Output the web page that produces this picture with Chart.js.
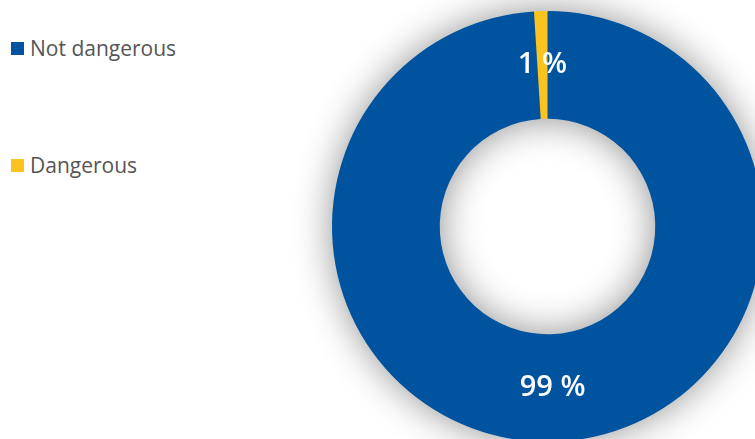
<!DOCTYPE html>
<html>
<head>
<meta charset="utf-8">
<script src="https://cdn.jsdelivr.net/npm/chart.js@4/dist/chart.umd.min.js"></script>
<style>
  html, body { margin: 0; padding: 0; width: 755px; height: 439px; overflow: hidden; background: #fff; }
  #legend { position: absolute; left: 11px; top: 0; font-family: 'Open Sans', sans-serif; font-size: 21px; color: #555; }
  #legend div { position: absolute; white-space: nowrap; display: flex; align-items: center; }
  #legend span.box { display: inline-block; width: 13px; height: 13px; margin-right: 6px; }
  #wrap { position: absolute; left: 292px; top: -29px; width: 511px; height: 511px; }
</style>
</head>
<body>
<div id="legend"></div>
<div id="wrap"><canvas id="chart"></canvas></div>
<script>
const LABELS = ['Not dangerous', 'Dangerous']
const VALUES = [99, 1]
const COLORS = ['#00549f', '#fcc31f']
const LEGEND_TOPS = [34, 151]

// Legend on the left, one entry per category
const legend = document.getElementById('legend')
LABELS.forEach((label, i) => {
  const row = document.createElement('div')
  row.style.top = LEGEND_TOPS[i] + 'px'
  const box = document.createElement('span')
  box.className = 'box'
  box.style.background = COLORS[i]
  row.appendChild(box)
  row.appendChild(document.createTextNode(label))
  legend.appendChild(row)
})

// Soft shadow cast by the ring, outside and into the hole
const shadowPlugin = {
  id: 'ringShadow',
  beforeDatasetsDraw (chart) {
    const arc = chart.getDatasetMeta(0).data[0]
    if (!arc) return
    const { x, y, outerRadius, innerRadius } = arc.getProps(['x', 'y', 'outerRadius', 'innerRadius'], true)
    const ctx = chart.ctx
    ctx.save()
    ctx.shadowColor = 'rgba(0, 0, 0, 0.45)'
    ctx.shadowBlur = 38
    ctx.fillStyle = COLORS[0]
    ctx.beginPath()
    ctx.arc(x, y, outerRadius - 1, 0, Math.PI * 2)
    ctx.arc(x, y, innerRadius + 1, 0, Math.PI * 2, true)
    ctx.fill('evenodd')
    ctx.restore()
  }
}

// Percent labels at the middle of each arc
const percentLabels = {
  id: 'percentLabels',
  afterDatasetsDraw (chart) {
    const ctx = chart.ctx
    const values = chart.data.datasets[0].data
    ctx.save()
    ctx.fillStyle = '#fff'
    ctx.font = '600 29px "Open Sans", sans-serif'
    ctx.textAlign = 'center'
    ctx.textBaseline = 'middle'
    chart.getDatasetMeta(0).data.forEach((arc, i) => {
      const p = arc.tooltipPosition()
      ctx.fillText(values[i] + ' %', p.x, p.y)
    })
    ctx.restore()
  }
}

new Chart(document.getElementById('chart'), {
  type: 'doughnut',
  data: {
    labels: LABELS,
    datasets: [
      {
        data: VALUES,
        backgroundColor: COLORS,
        borderWidth: 0,
        hoverOffset: 0
      }
    ]
  },
  options: {
    responsive: true,
    maintainAspectRatio: false,
    animation: false,
    events: [],
    cutout: '50%',
    layout: { padding: 40 },
    plugins: {
      legend: { display: false },
      tooltip: { enabled: false }
    }
  },
  plugins: [shadowPlugin, percentLabels]
})
</script>
</body>
</html>
